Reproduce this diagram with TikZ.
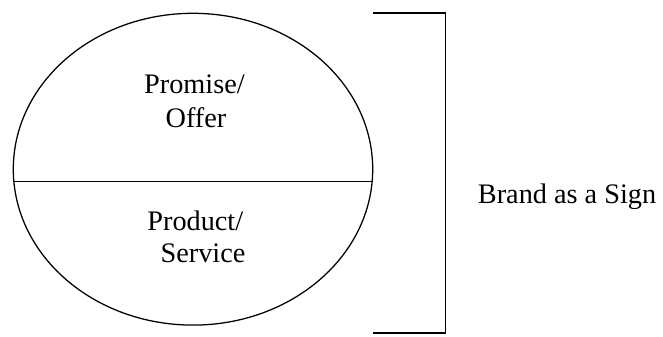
\documentclass[tikz,border=0pt]{standalone}
\usepackage{fontspec}
\setmainfont{Liberation Serif}
\usetikzlibrary{shapes.geometric}
\begin{document}
\begin{tikzpicture}[x=0.75pt,y=-0.75pt,
  lbl/.style={anchor=base,inner sep=0pt,font=\fontsize{21.2}{24}\selectfont},
  thin line/.style={line width=0.95pt},
  bracket line/.style={line width=1.3pt}]
\useasboundingbox (0,0) rectangle (663,336);
\node[draw,thin line,ellipse,inner sep=0pt,minimum width=359.4*0.75pt,minimum height=311.8*0.75pt] (ell) at (193,169.2) {};
\coordinate (dl) at (13.9,181.7);
\coordinate (dr) at (372.1,181.7);
\draw[thin line] (dl) -- (dr);
\node[lbl] (p1) at (194.4,93) {Promise/};
\node[lbl] (p2) at (196,127) {Offer};
\node[lbl] (s1) at (195.3,230) {Product/};
\node[lbl] (s2) at (203,262) {Service};
\coordinate (bt) at (372.7,13.3);
\coordinate (btr) at (445.5,13.3);
\coordinate (bbr) at (445.5,333);
\coordinate (bb) at (372.7,333);
\draw[bracket line] (bt) -- (btr) -- (bbr) -- (bb);
\node[lbl,anchor=base west] (brand) at (477.7,203) {Brand as a Sign};
\end{tikzpicture}
\end{document}
